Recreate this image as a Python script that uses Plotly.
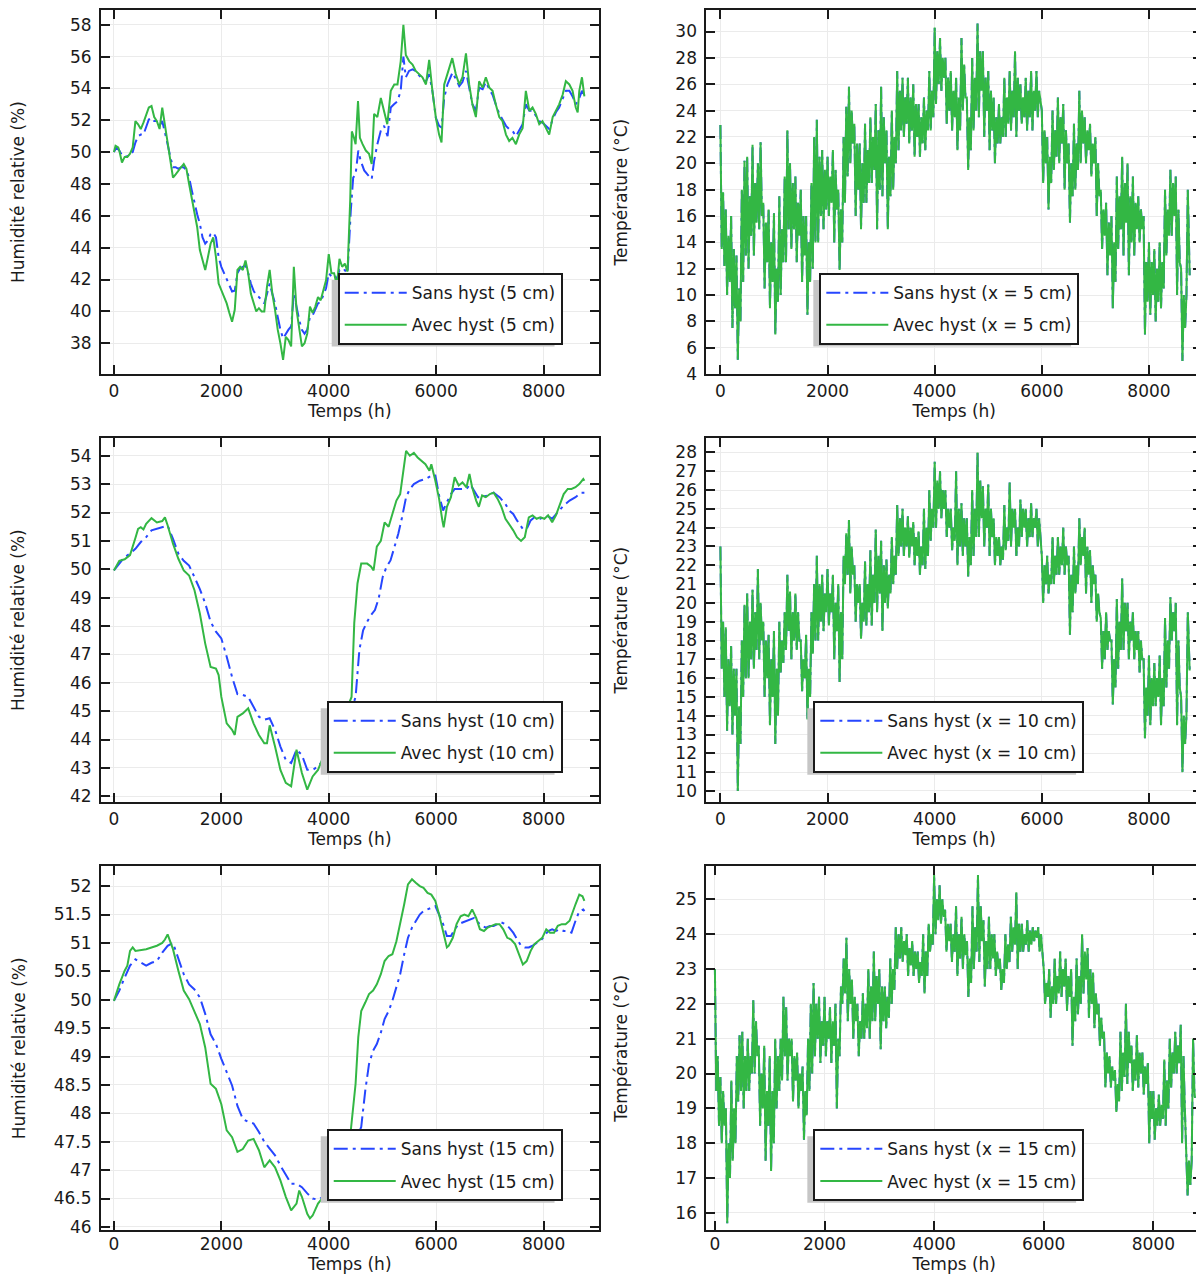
import plotly.graph_objects as go

FONT = "DejaVu Sans"
INK = "#1a1a1a"
BLUE = "#2646ff"
GREEN = "#33b744"

# ---------------- Relative humidity (%) : (time h, value) ----------------
rh5_sans = [(0,50.0),(50,50.3),(100,50.1),(150,49.8),(200,49.7),(300,49.8),(350,50.0),(400,50.6),(450,51.0),(500,51.1),(550,51.1),(600,51.65),(650,52.05),(700,52.15),(750,51.95),(800,51.95),(850,51.65),(900,51.95),(950,51.3),(1000,50.5),(1050,49.7),(1100,49.05),(1150,49.05),(1200,48.95),(1250,49.05),(1300,49.05),(1350,48.85),(1400,48.4),(1450,47.6),(1500,46.75),(1550,46.1),(1600,45.5),(1650,44.65),(1700,44.25),(1750,44.45),(1800,44.85),(1850,44.95),(1900,44.65),(1950,43.4),(2000,42.8),(2050,42.4),(2100,41.95),(2150,41.55),(2200,41.25),(2250,41.3),(2300,42.4),(2350,42.7),(2400,42.8),(2450,42.9),(2500,42.4),(2550,41.75),(2600,41.3),(2650,41.0),(2700,40.9),(2750,40.7),(2800,40.5),(2850,41.1),(2900,41.75),(2950,41.1),(3000,40.5),(3050,39.65),(3100,38.85),(3150,38.3),(3200,38.6),(3250,38.85),(3300,39.05),(3350,41.1),(3400,40.3),(3450,39.45),(3500,38.85),(3550,38.6),(3600,38.85),(3650,39.65),(3700,39.75),(3750,40.1),(3800,40.5),(3850,40.6),(3900,41.0),(3950,41.45),(4000,42.4),(4050,42.2),(4100,42.3),(4150,42.0),(4200,42.6),(4250,42.5),(4300,42.6),(4350,42.4),(4410,46.3),(4455,48.4),(4500,48.6),(4550,50.1),(4595,49.45),(4660,48.85),(4720,48.6),(4800,48.3),(4845,49.45),(4905,50.5),(4970,51.35),(5030,51.65),(5095,51.0),(5155,52.8),(5215,53.0),(5280,53.2),(5340,53.85),(5390,56.0),(5435,54.7),(5495,55.1),(5560,55.2),(5620,55.1),(5685,54.8),(5745,54.6),(5805,54.4),(5870,54.9),(5930,53.85),(5995,52.15),(6055,51.65),(6100,51.55),(6150,53.4),(6210,54.25),(6305,55.0),(6365,54.6),(6430,54.15),(6490,54.4),(6555,55.1),(6615,54.05),(6675,53.0),(6740,52.6),(6800,54.05),(6865,53.95),(6925,54.4),(6990,53.95),(7050,53.6),(7110,53.0),(7175,52.4),(7235,52.05),(7300,51.65),(7360,51.45),(7420,51.35),(7485,51.0),(7545,51.35),(7610,51.75),(7670,53.0),(7735,52.6),(7795,52.6),(7855,52.3),(7920,51.95),(7980,51.85),(8045,51.65),(8105,51.45),(8170,52.05),(8230,52.5),(8290,52.8),(8355,53.3),(8415,53.85),(8480,53.85),(8540,53.5),(8600,53.0),(8665,53.4),(8715,53.85),(8760,53.6)]

rh5_avec = [(0,50.0),(30,50.4),(80,50.3),(100,50.1),(150,49.35),(200,49.7),(250,49.7),(300,49.9),(350,50.3),(400,51.95),(450,51.75),(500,51.45),(550,51.85),(600,52.4),(650,52.8),(700,52.9),(750,52.2),(800,51.95),(850,51.45),(900,52.8),(950,51.75),(1000,50.5),(1050,49.45),(1100,48.4),(1150,48.6),(1200,48.85),(1250,49.05),(1300,49.25),(1350,48.95),(1400,48.0),(1450,47.15),(1500,46.3),(1550,45.3),(1600,43.85),(1650,43.2),(1700,42.6),(1750,43.4),(1800,44.25),(1850,44.65),(1900,43.4),(1950,41.75),(2000,41.3),(2050,40.9),(2100,40.5),(2150,39.9),(2200,39.35),(2250,40.1),(2300,42.6),(2350,42.8),(2400,42.6),(2450,43.2),(2500,42.4),(2550,41.1),(2600,40.5),(2650,40.0),(2700,40.2),(2750,40.0),(2800,40.0),(2850,41.55),(2900,42.6),(2950,41.1),(3000,40.1),(3050,38.85),(3100,38.0),(3150,36.95),(3200,38.4),(3250,38.2),(3300,37.8),(3350,42.8),(3400,40.1),(3450,38.85),(3500,37.8),(3550,38.0),(3600,38.6),(3650,40.3),(3700,39.9),(3750,40.3),(3800,40.9),(3850,40.7),(3900,41.3),(3950,41.95),(4000,43.6),(4050,42.4),(4100,42.4),(4150,41.6),(4200,43.3),(4250,42.8),(4300,43.0),(4350,42.5),(4400,47.0),(4430,51.3),(4470,50.9),(4500,50.5),(4545,53.2),(4580,50.9),(4630,50.5),(4690,50.1),(4750,49.9),(4800,49.25),(4845,52.4),(4905,52.2),(4970,53.4),(5030,52.6),(5090,51.75),(5155,53.85),(5220,54.25),(5280,54.25),(5340,55.7),(5390,58.0),(5435,56.1),(5500,55.7),(5560,55.5),(5620,55.1),(5680,54.9),(5745,54.7),(5810,54.25),(5870,55.8),(5930,53.85),(5995,52.15),(6055,51.1),(6100,50.6),(6150,54.25),(6210,54.9),(6300,55.9),(6365,54.9),(6430,54.25),(6490,54.7),(6555,56.2),(6615,54.25),(6675,53.0),(6740,52.2),(6800,54.45),(6865,54.05),(6925,54.7),(6990,54.05),(7050,53.85),(7110,53.0),(7175,52.2),(7235,51.95),(7300,51.1),(7360,50.7),(7420,50.9),(7485,50.5),(7545,51.1),(7610,51.5),(7670,53.85),(7735,52.6),(7795,52.8),(7855,52.4),(7920,51.75),(7980,51.95),(8045,51.5),(8105,51.1),(8170,52.2),(8230,52.6),(8290,53.0),(8355,53.6),(8415,54.45),(8480,54.25),(8540,53.85),(8600,52.8),(8635,52.5),(8665,53.85),(8715,54.7),(8760,53.5)]

rh10_sans = [(0,49.96),(100,50.2),(200,50.43),(300,50.55),(400,50.72),(500,50.96),(600,51.13),(700,51.37),(800,51.42),(900,51.48),(1000,51.54),(1100,51.07),(1200,50.55),(1300,50.3),(1400,50.13),(1500,49.72),(1600,49.3),(1700,48.8),(1800,48.15),(1900,47.8),(2000,47.56),(2100,46.92),(2200,46.2),(2300,45.6),(2400,45.57),(2500,45.5),(2600,45.16),(2700,44.8),(2800,44.7),(2900,44.75),(3000,44.34),(3100,43.75),(3200,43.28),(3300,43.17),(3400,43.64),(3500,43.46),(3600,42.93),(3700,42.93),(3800,43.05),(3900,43.28),(4000,43.75),(4100,44.1),(4200,44.34),(4300,44.57),(4400,44.9),(4500,45.5),(4570,47.15),(4640,47.85),(4715,48.15),(4785,48.38),(4860,48.56),(4930,48.97),(5005,49.73),(5075,50.08),(5150,50.31),(5220,50.78),(5295,51.25),(5365,51.83),(5440,52.54),(5510,52.83),(5585,53.0),(5695,53.12),(5800,53.18),(5910,53.3),(5985,53.3),(6055,52.6),(6130,52.07),(6200,52.36),(6275,52.65),(6345,52.83),(6455,52.83),(6565,52.83),(6635,53.0),(6710,52.77),(6780,52.54),(6855,52.54),(6960,52.6),(7070,52.7),(7180,52.54),(7290,52.3),(7360,52.07),(7435,51.95),(7505,51.72),(7615,51.42),(7685,51.42),(7760,51.72),(7830,51.83),(7940,51.78),(8050,51.9),(8160,51.78),(8265,52.0),(8375,52.25),(8485,52.42),(8595,52.54),(8700,52.7),(8760,52.7)]

rh10_avec = [(0,49.96),(100,50.3),(200,50.35),(300,50.5),(400,51.1),(450,51.42),(500,51.48),(550,51.4),(600,51.6),(700,51.8),(800,51.65),(900,51.7),(950,51.83),(1000,51.55),(1100,50.9),(1200,50.37),(1300,49.96),(1400,49.78),(1500,49.26),(1600,48.44),(1700,47.38),(1800,46.56),(1900,46.5),(1950,46.27),(2000,45.5),(2100,44.57),(2200,44.34),(2250,44.16),(2300,44.8),(2400,44.92),(2500,45.1),(2600,44.57),(2700,44.16),(2800,43.87),(2850,43.87),(2900,44.5),(3000,43.75),(3100,42.93),(3200,42.47),(3300,42.35),(3400,43.64),(3500,42.82),(3600,42.23),(3700,42.7),(3800,42.93),(3900,43.4),(4000,43.87),(4100,44.2),(4200,44.5),(4300,44.9),(4380,45.3),(4425,45.5),(4475,48.1),(4535,49.5),(4605,50.2),(4715,50.2),(4785,50.1),(4835,49.96),(4895,50.8),(4970,51.0),(5040,51.65),(5115,51.5),(5185,51.95),(5260,52.42),(5330,52.65),(5405,53.6),(5440,54.17),(5510,54.0),(5585,54.1),(5655,53.94),(5730,53.82),(5800,53.7),(5875,53.47),(5910,53.7),(5985,53.12),(6055,52.48),(6115,51.72),(6140,51.48),(6200,52.2),(6275,52.54),(6345,53.24),(6420,52.95),(6490,53.06),(6565,52.89),(6620,53.36),(6670,52.89),(6745,52.42),(6795,52.2),(6855,52.6),(6925,52.54),(7000,52.65),(7070,52.7),(7145,52.48),(7215,52.2),(7290,51.78),(7360,51.6),(7435,51.37),(7505,51.13),(7580,51.0),(7650,51.13),(7725,51.83),(7795,51.9),(7870,51.78),(7940,51.83),(8015,51.78),(8085,51.9),(8160,51.66),(8230,51.9),(8305,52.3),(8375,52.65),(8450,52.83),(8520,52.83),(8595,52.89),(8665,53.0),(8740,53.18),(8760,53.12)]

rh15_sans = [(0,49.98),(100,50.16),(200,50.39),(300,50.6),(400,50.71),(500,50.65),(600,50.6),(700,50.65),(800,50.68),(900,50.83),(1000,50.95),(1100,51.0),(1200,50.74),(1300,50.45),(1400,50.27),(1500,50.18),(1600,50.04),(1700,49.75),(1800,49.39),(1900,49.22),(2000,48.96),(2100,48.72),(2200,48.49),(2300,48.13),(2400,47.9),(2500,47.85),(2600,47.82),(2700,47.67),(2800,47.5),(2900,47.38),(3000,47.26),(3100,47.08),(3200,46.91),(3300,46.76),(3400,46.76),(3500,46.7),(3600,46.59),(3700,46.5),(3800,46.48),(3900,46.53),(4000,46.6),(4100,46.7),(4200,46.85),(4300,47.0),(4400,47.2),(4500,47.5),(4605,47.76),(4680,48.4),(4750,48.87),(4825,49.1),(4895,49.22),(4970,49.42),(5040,49.66),(5115,49.8),(5185,49.98),(5260,50.21),(5330,50.45),(5405,50.8),(5475,51.09),(5550,51.27),(5620,51.39),(5695,51.5),(5765,51.56),(5840,51.59),(5910,51.62),(5985,51.65),(6055,51.5),(6130,51.33),(6200,51.12),(6275,51.12),(6345,51.24),(6420,51.33),(6490,51.36),(6565,51.39),(6635,51.41),(6710,51.44),(6780,51.36),(6855,51.3),(6925,51.27),(7000,51.3),(7070,51.3),(7145,51.33),(7215,51.36),(7290,51.33),(7360,51.27),(7435,51.18),(7505,51.06),(7580,50.95),(7650,50.92),(7725,50.92),(7795,50.95),(7870,51.0),(7940,51.03),(8015,51.12),(8085,51.21),(8160,51.24),(8230,51.21),(8305,51.24),(8375,51.21),(8450,51.21),(8520,51.18),(8595,51.39),(8665,51.56),(8740,51.59),(8760,51.56)]

rh15_avec = [(0,49.98),(100,50.27),(200,50.51),(250,50.6),(300,50.86),(350,50.92),(400,50.86),(500,50.87),(600,50.89),(700,50.92),(800,50.95),(900,51.0),(950,51.06),(1000,51.15),(1050,51.03),(1100,50.89),(1200,50.51),(1300,50.16),(1400,50.01),(1500,49.8),(1600,49.57),(1700,49.16),(1800,48.52),(1900,48.43),(2000,48.16),(2100,47.7),(2200,47.58),(2300,47.32),(2400,47.37),(2500,47.52),(2600,47.55),(2700,47.35),(2800,47.05),(2900,47.17),(3000,47.05),(3100,46.82),(3200,46.53),(3300,46.29),(3400,46.41),(3450,46.64),(3500,46.53),(3600,46.23),(3650,46.15),(3700,46.2),(3800,46.41),(3900,46.53),(4000,46.7),(4100,46.9),(4200,47.1),(4300,47.3),(4400,47.6),(4500,48.52),(4550,49.34),(4605,49.8),(4680,49.95),(4750,50.1),(4825,50.16),(4895,50.27),(4970,50.45),(5040,50.68),(5115,50.77),(5185,50.8),(5260,51.03),(5330,51.33),(5405,51.68),(5475,52.03),(5550,52.12),(5620,52.06),(5695,52.0),(5765,51.97),(5840,51.88),(5910,51.85),(5985,51.74),(6055,51.5),(6130,51.21),(6200,50.92),(6235,50.95),(6310,51.09),(6380,51.33),(6455,51.47),(6525,51.5),(6600,51.47),(6670,51.59),(6745,51.44),(6815,51.24),(6890,51.21),(6960,51.27),(7035,51.3),(7105,51.33),(7180,51.33),(7250,51.24),(7325,51.09),(7395,51.06),(7470,50.98),(7540,50.8),(7615,50.62),(7685,50.68),(7760,50.86),(7830,50.98),(7905,51.03),(7975,51.09),(8050,51.24),(8120,51.18),(8195,51.18),(8265,51.3),(8340,51.33),(8410,51.33),(8485,51.39),(8535,51.53),(8595,51.68),(8665,51.85),(8725,51.82),(8760,51.74)]

# ---------------- Temperature (°C), sampled every 25 h (+ last hour) ----------------
t_temp = list(range(0, 8760, 25)) + [8760]

temp_5cm = [
    22.9, 13.5, 17.8, 12.2,  16.5, 10.0, 14.5, 11.0,  16.0, 7.5, 13.5, 9.0,  13.0, 5.1, 10.5, 8.0,
    18.0, 11.0, 20.2, 13.0,  20.5, 12.0, 17.5, 14.5,  21.4, 13.0, 18.5, 15.5,  20.0, 15.0, 21.6, 16.0,
    17.0, 10.5, 15.5, 12.5,  16.5, 9.0, 14.0, 11.0,  16.2, 7.0, 12.0, 9.5,  17.5, 10.0, 15.0, 12.5,
    19.0, 12.5, 22.5, 15.0,  20.0, 13.5, 18.5, 15.0,  19.0, 12.5, 17.0, 14.5,  18.0, 11.0, 16.0, 13.0,
    16.0, 8.5, 14.0, 11.0,  18.5, 12.0, 22.0, 14.0,  23.3, 14.0, 20.5, 16.0,  21.0, 15.0, 19.5, 16.5,
    20.5, 16.0, 19.0, 17.0,  21.0, 14.0, 19.5, 16.5,  18.0, 11.9, 16.5, 14.0,  22.0, 17.0, 24.3, 19.0,
    25.8, 20.0, 24.0, 21.5,  23.0, 16.0, 21.5, 18.0,  21.5, 15.0, 20.0, 17.0,  23.0, 17.0, 21.0, 18.5,
    23.5, 18.5, 22.0, 19.5,  24.5, 15.0, 22.5, 18.0,  25.8, 17.5, 23.5, 20.0,  22.5, 15.0, 20.5, 17.5,
    24.0, 18.0, 22.0, 20.0,  27.0, 21.0, 25.5, 22.5,  26.5, 22.0, 25.0, 23.0,  26.5, 21.5, 25.0, 22.5,
    26.0, 20.5, 24.5, 22.0,  24.5, 20.5, 23.5, 21.5,  25.0, 21.0, 24.0, 22.5,  27.0, 22.5, 25.5, 23.5,
    30.3, 24.5, 28.5, 26.0,  29.5, 25.5, 28.0, 26.5,  28.0, 23.0, 26.5, 24.0,  27.0, 22.5, 25.5, 23.5,
    26.5, 21.0, 25.0, 22.5,  29.5, 24.0, 27.5, 25.0,  25.0, 19.5, 23.5, 21.0,  28.0, 22.5, 26.5, 24.0,
    30.6, 23.5, 28.5, 25.5,  28.5, 22.0, 26.5, 24.0,  27.0, 21.0, 25.5, 22.5,  25.0, 20.0, 23.5, 21.5,
    24.5, 21.5, 23.5, 22.0,  26.5, 22.0, 25.0, 23.0,  27.0, 22.5, 25.5, 23.5,  28.5, 22.0, 26.5, 24.0,
    26.0, 23.0, 25.0, 23.5,  26.5, 22.5, 25.5, 23.5,  27.0, 22.5, 25.5, 24.0,  27.0, 23.5, 25.5, 24.5,
    24.0, 18.5, 22.5, 20.0,  22.0, 16.5, 20.5, 18.5,  24.0, 19.5, 22.5, 20.5,  25.0, 20.0, 23.5, 21.5,
    24.5, 18.0, 22.5, 20.0,  21.5, 15.5, 20.0, 17.5,  23.0, 18.0, 21.5, 19.5,  25.5, 20.0, 24.0, 21.5,
    23.5, 20.0, 22.5, 21.0,  23.0, 19.0, 21.5, 20.0,  22.0, 16.0, 20.0, 17.5,  18.0, 13.5, 16.5, 14.5,
    17.0, 11.5, 15.5, 13.0,  16.0, 9.0, 14.0, 11.0,  19.0, 13.5, 17.5, 15.0,  20.5, 13.0, 18.5, 15.5,
    20.0, 11.5, 17.5, 14.0,  19.0, 13.0, 17.0, 15.0,  17.5, 14.0, 16.5, 15.0,  16.0, 7.0, 12.5, 9.5,
    14.0, 8.5, 12.5, 10.0,  13.5, 8.0, 12.0, 9.5,  14.0, 9.0, 12.5, 10.5,  18.0, 13.0, 16.5, 14.5,
    19.5, 14.5, 18.5, 16.0,  19.0, 10.0, 16.5, 12.5,  12.0, 5.0, 10.0, 7.5,  10.0, 18.0, 12.5, 11.5,
]

temp_10cm = [
    23.0, 16.5, 19.0, 15.0,  18.7, 13.2, 17.0, 14.5,  17.7, 13.0, 16.5, 14.0,  16.5, 10.0, 14.5, 12.5,
    18.0, 15.0, 19.9, 16.0,  20.5, 16.0, 19.0, 17.0,  20.7, 16.5, 19.5, 17.5,  21.8, 17.0, 20.0, 18.0,
    19.0, 15.0, 18.0, 16.0,  18.3, 13.5, 17.0, 15.0,  18.5, 12.5, 16.5, 14.0,  19.0, 16.3, 18.0, 16.8,
    19.5, 17.5, 21.5, 18.5,  20.6, 17.0, 19.5, 18.0,  20.5, 17.5, 19.5, 18.0,  18.0, 15.3, 17.0, 16.0,
    18.3, 13.8, 16.5, 15.0,  19.5, 17.3, 21.0, 18.0,  22.5, 18.0, 21.0, 19.0,  21.5, 18.5, 20.5, 19.5,
    21.8, 18.8, 20.5, 19.5,  21.5, 17.0, 20.0, 18.5,  21.0, 15.8, 19.5, 17.0,  22.5, 21.0, 23.7, 21.5,
    24.4, 20.5, 23.0, 21.5,  22.0, 19.0, 21.0, 20.0,  21.0, 18.1, 20.0, 19.0,  22.2, 18.8, 21.0, 19.5,
    22.8, 18.8, 21.5, 20.0,  23.9, 19.5, 22.5, 20.5,  23.3, 18.5, 22.0, 20.0,  22.3, 19.7, 21.5, 20.5,
    23.5, 21.0, 22.5, 21.5,  25.2, 22.5, 24.5, 23.0,  25.0, 22.5, 24.0, 23.0,  24.6, 22.4, 24.0, 23.0,
    24.3, 22.0, 23.5, 22.5,  23.8, 21.5, 23.0, 22.0,  25.0, 21.8, 24.0, 22.5,  26.0, 23.3, 25.0, 24.0,
    27.5, 24.0, 26.5, 25.0,  27.0, 24.5, 26.0, 25.0,  26.0, 23.5, 25.0, 24.0,  25.0, 22.8, 24.0, 23.3,
    27.0, 22.0, 25.0, 23.0,  25.3, 22.5, 24.5, 23.0,  24.5, 21.4, 23.5, 22.0,  26.0, 22.5, 25.0, 23.5,
    28.0, 23.5, 26.5, 24.5,  26.2, 23.0, 25.0, 24.0,  26.3, 22.5, 25.0, 23.5,  24.5, 22.0, 23.5, 22.5,
    23.5, 22.0, 23.0, 22.3,  25.2, 22.8, 24.0, 23.3,  26.4, 23.0, 25.0, 24.0,  25.0, 22.5, 24.0, 23.0,
    25.5, 23.5, 25.0, 24.0,  25.0, 23.0, 24.5, 23.5,  25.3, 23.5, 24.5, 24.0,  25.0, 23.0, 24.5, 23.5,
    22.5, 20.0, 22.0, 21.0,  22.5, 20.5, 21.5, 21.0,  23.5, 21.0, 22.5, 21.5,  23.5, 21.5, 23.0, 22.0,
    24.0, 21.5, 23.0, 22.0,  22.5, 18.3, 21.5, 19.5,  23.0, 20.5, 22.0, 21.0,  24.5, 22.0, 23.5, 22.5,
    24.0, 20.5, 23.0, 21.5,  22.8, 20.0, 22.0, 21.0,  21.5, 19.0, 20.5, 19.5,  19.2, 16.5, 18.5, 17.0,
    19.5, 17.5, 18.5, 18.0,  18.0, 14.6, 17.0, 15.5,  20.2, 16.5, 19.0, 17.5,  21.3, 17.5, 20.0, 18.5,
    20.0, 17.0, 19.0, 18.0,  19.5, 17.0, 18.5, 17.5,  18.5, 16.3, 18.0, 17.0,  17.0, 12.8, 15.5, 14.0,
    17.2, 13.5, 16.0, 14.5,  16.8, 14.5, 16.0, 15.0,  17.2, 13.5, 16.0, 14.5,  19.2, 15.5, 18.0, 16.5,
    20.3, 18.0, 19.5, 18.5,  20.0, 13.5, 18.0, 15.5,  15.0, 11.0, 14.0, 12.5,  14.0, 19.5, 17.0, 16.4,
]

temp_15cm = [
    23.0, 19.5, 20.5, 18.5,  19.9, 18.0, 19.5, 18.5,  19.0, 15.7, 18.0, 17.0,  19.8, 17.5, 19.0, 18.0,
    20.5, 19.2, 21.1, 19.5,  21.2, 19.0, 20.5, 19.5,  21.0, 19.5, 20.5, 20.0,  22.1, 20.0, 21.5, 20.5,
    20.8, 18.5, 20.0, 19.0,  20.8, 17.5, 19.5, 18.5,  20.5, 17.2, 19.5, 18.0,  21.0, 19.0, 20.5, 19.5,
    21.0, 19.8, 22.2, 20.5,  21.9, 19.8, 21.0, 20.5,  21.0, 19.2, 20.5, 19.8,  20.6, 19.0, 20.0, 19.5,
    20.2, 18.1, 19.5, 18.8,  21.0, 19.5, 22.0, 20.0,  22.6, 20.5, 22.0, 21.0,  22.2, 20.3, 21.5, 20.8,
    22.2, 20.5, 21.5, 21.0,  21.9, 20.3, 21.5, 20.8,  22.0, 19.0, 21.0, 20.5,  22.5, 22.0, 23.3, 22.3,
    23.9, 21.5, 23.0, 22.0,  22.7, 21.0, 22.2, 21.5,  22.0, 20.5, 21.5, 21.0,  22.3, 21.0, 22.0, 21.3,
    23.0, 21.0, 22.5, 21.5,  23.5, 21.5, 22.8, 22.0,  23.0, 20.7, 22.5, 21.5,  22.5, 21.3, 22.2, 21.6,
    23.3, 22.0, 23.0, 22.4,  24.2, 23.0, 24.0, 23.3,  24.2, 23.2, 23.8, 23.4,  24.0, 22.8, 23.6, 23.1,
    23.8, 22.8, 23.5, 23.0,  23.5, 22.6, 23.2, 22.8,  24.0, 22.3, 23.5, 22.8,  24.3, 23.5, 24.0, 23.7,
    25.7, 24.0, 25.0, 24.4,  25.4, 24.3, 25.0, 24.5,  24.7, 23.5, 24.3, 23.8,  24.3, 23.2, 24.0, 23.5,
    24.8, 22.8, 24.0, 23.3,  24.5, 23.0, 24.0, 23.4,  23.8, 22.2, 23.3, 22.6,  24.8, 23.0, 24.2, 23.5,
    25.7, 23.2, 24.8, 23.8,  24.4, 22.5, 23.8, 23.0,  24.5, 23.0, 24.0, 23.3,  24.0, 22.8, 23.5, 23.0,
    23.3, 22.4, 23.0, 22.6,  24.0, 23.0, 23.7, 23.2,  24.5, 23.5, 24.2, 23.7,  25.2, 23.0, 24.3, 23.5,
    24.3, 23.5, 24.0, 23.7,  24.4, 23.5, 24.1, 23.7,  24.2, 23.8, 24.1, 23.9,  24.2, 23.5, 24.0, 23.6,
    23.0, 22.0, 22.6, 22.2,  23.0, 21.6, 22.5, 22.0,  23.3, 22.0, 22.8, 22.3,  23.5, 22.2, 23.0, 22.5,
    23.3, 21.8, 22.8, 22.2,  23.0, 20.8, 22.2, 21.5,  23.3, 21.7, 22.8, 22.0,  24.0, 22.3, 23.5, 22.7,
    23.6, 21.6, 23.0, 22.0,  22.9, 21.3, 22.3, 21.7,  22.0, 20.8, 21.6, 21.0,  21.2, 19.6, 20.6, 20.0,
    20.5, 19.6, 20.2, 19.8,  20.1, 18.9, 19.7, 19.2,  21.2, 19.5, 20.6, 19.9,  22.0, 19.7, 21.2, 20.3,
    20.8, 19.5, 20.4, 19.8,  21.1, 19.6, 20.6, 20.0,  20.6, 19.4, 20.2, 19.7,  20.3, 18.0, 19.5, 18.7,
    19.5, 18.1, 19.0, 18.5,  19.4, 18.5, 19.1, 18.7,  20.4, 18.5, 19.8, 19.0,  21.0, 19.6, 20.6, 20.0,
    21.2, 20.0, 20.8, 20.3,  21.4, 18.0, 20.5, 19.0,  18.0, 16.5, 17.5, 16.8,  17.5, 21.0, 19.5, 19.3,
]

# ---------------- Panel definitions ----------------
x_tick_vals = [0, 2000, 4000, 6000, 8000]
rh_title = "Humidité relative (%)"
temp_title = "Température (°C)"
x_title = "Temps (h)"

panels = [
    dict(sans=rh5_sans, avec=rh5_avec, ls="Sans hyst (5 cm)", la="Avec hyst (5 cm)", kind="rh",
         yrange=[36.06, 58.92], dtick=2, xrange=[-242, 9023], col=0, row=0, leg=(338, 273, 223), ystand=41),
    dict(temp=temp_5cm, ls="Sans hyst (x = 5 cm)", la="Avec hyst (x = 5 cm)", kind="t",
         yrange=[4.0, 31.63], dtick=2, xrange=[-261, 8990], col=1, row=0, leg=(820, 273, 258), ystand=43),
    dict(sans=rh10_sans, avec=rh10_avec, ls="Sans hyst (10 cm)", la="Avec hyst (10 cm)", kind="rh",
         yrange=[41.79, 54.62], dtick=1, xrange=[-242, 9023], col=0, row=1, leg=(327, 701, 234), ystand=41),
    dict(temp=temp_10cm, ls="Sans hyst (x = 10 cm)", la="Avec hyst (x = 10 cm)", kind="t",
         yrange=[9.40, 28.76], dtick=1, xrange=[-261, 8990], col=1, row=1, leg=(814, 701, 269), ystand=43),
    dict(sans=rh15_sans, avec=rh15_avec, ls="Sans hyst (15 cm)", la="Avec hyst (15 cm)", kind="rh",
         yrange=[45.94, 52.35], dtick=0.5, xrange=[-242, 9023], col=0, row=2, leg=(327, 1129, 234), ystand=24),
    dict(temp=temp_15cm, ls="Sans hyst (x = 15 cm)", la="Avec hyst (x = 15 cm)", kind="t",
         yrange=[15.50, 25.95], dtick=1, xrange=[-155, 8888], col=1, row=2, leg=(814, 1129, 269), ystand=43),
]

# Page geometry: figure sits 8 px from the page corner; the captured picture is
# slightly compressed vertically, so target positions are mapped accordingly.
OFF = 8
SY = 0.992
W, H = 1204 - OFF, 1282
col_px = [(101, 599), (707, 1203)]
row_px = [(10, 374), (438, 802), (866, 1230)]
label_standoff = [0, 0, -3]   # bottom row pulled up slightly so its title stays in frame


def fx(px):
    return px - OFF


def fy(py):
    return py / SY - OFF


fig = go.Figure()
layout = dict(
    width=W, height=H, autosize=False,
    margin=dict(l=0, r=0, t=0, b=0, pad=0),
    paper_bgcolor="white", plot_bgcolor="white",
    font=dict(family=FONT, size=17, color=INK),
    shapes=[],
)

axis_common = dict(
    showline=True, linecolor=INK, linewidth=2, mirror="ticks",
    ticks="inside", ticklen=9, tickwidth=2, tickcolor=INK,
    showgrid=True, gridcolor="#ebebeb", gridwidth=1, zeroline=False,
    tickfont=dict(family=FONT, size=17, color=INK),
)

for i, p in enumerate(panels):
    n = i + 1
    xa = "x" if n == 1 else f"x{n}"
    ya = "y" if n == 1 else f"y{n}"
    lg = "legend" if n == 1 else f"legend{n}"
    x0, x1 = [fx(v) for v in col_px[p["col"]]]
    y0, y1 = [fy(v) for v in row_px[p["row"]]]

    if p["kind"] == "rh":
        xs_s = [a for a, _ in p["sans"]]; ys_s = [b for _, b in p["sans"]]
        xs_a = [a for a, _ in p["avec"]]; ys_a = [b for _, b in p["avec"]]
    else:
        xs_s = xs_a = t_temp
        ys_s = ys_a = p["temp"]

    fig.add_trace(go.Scatter(
        x=xs_s, y=ys_s, mode="lines", name=p["ls"], xaxis=xa, yaxis=ya,
        line=dict(color=BLUE, width=2, dash="14px,5px,3px,5px"),
        legend=lg, legendgroup=f"s{n}"))
    fig.add_trace(go.Scatter(
        x=xs_a, y=ys_a, mode="lines", name=p["la"], xaxis=xa, yaxis=ya,
        line=dict(color=GREEN, width=2),
        legend=lg, legendgroup=f"a{n}"))

    xkey = "xaxis" if n == 1 else f"xaxis{n}"
    ykey = "yaxis" if n == 1 else f"yaxis{n}"
    layout[xkey] = dict(
        axis_common, domain=[x0 / W, min(x1 / W, 1.0)], anchor=ya, range=p["xrange"],
        tickmode="array", tickvals=x_tick_vals, ticklabelstandoff=label_standoff[p["row"]],
        title=dict(text=x_title, standoff=0, font=dict(family=FONT, size=17, color=INK)),
    )
    layout[ykey] = dict(
        axis_common, domain=[1 - y1 / H, 1 - y0 / H], anchor=xa, range=p["yrange"],
        tick0=0, dtick=p["dtick"], ticklabelstandoff=4,
        title=dict(text=rh_title if p["kind"] == "rh" else temp_title, standoff=p["ystand"],
                   font=dict(family=FONT, size=17, color=INK)),
    )

    lx, ly, lw = p["leg"]
    lx = fx(lx); ly = fy(ly)
    lh = 68
    layout[lg] = dict(
        x=lx / W, y=1 - ly / H, xanchor="left", yanchor="top",
        bgcolor="white", bordercolor=INK, borderwidth=2,
        font=dict(family=FONT, size=17, color=INK),
        tracegroupgap=7, itemwidth=62, traceorder="grouped",
    )
    layout["shapes"].append(dict(
        type="rect", xref="paper", yref="paper", layer="above",
        x0=(lx - 6) / W, x1=(lx - 6 + lw) / W,
        y0=1 - (ly + 6 + lh) / H, y1=1 - (ly + 7) / H,
        fillcolor="#c6c6c6", line=dict(width=0),
    ))

fig.update_layout(**layout)
fig.write_html("out.html")
